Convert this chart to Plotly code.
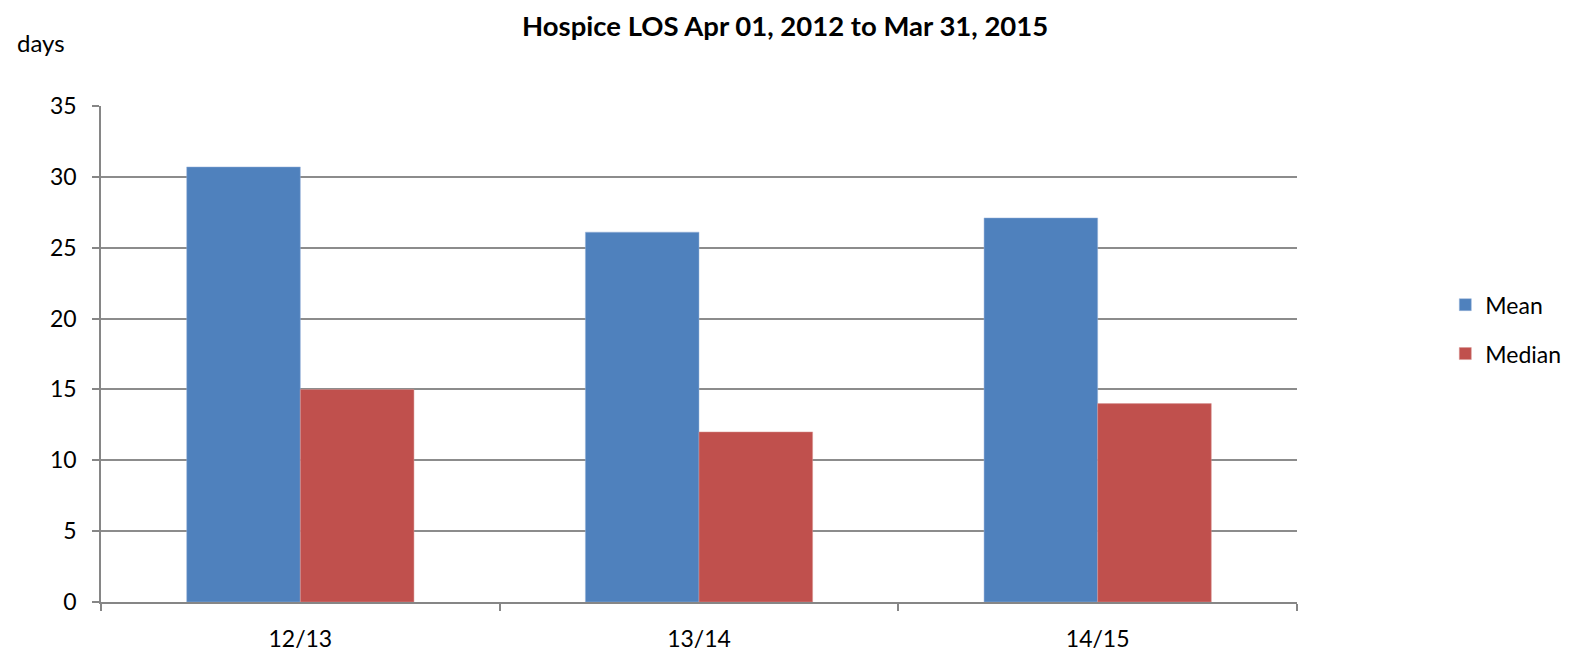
import plotly.graph_objects as go

categories = ["12/13", "13/14", "14/15"]
mean_vals = [30.7, 26.1, 27.1]
median_vals = [15, 12, 14]
y_ticks = [0, 5, 10, 15, 20, 25, 30, 35]

FONT = "Lato, 'Open Sans', sans-serif"
FS = 23

fig = go.Figure()
fig.add_trace(go.Bar(x=categories, y=mean_vals, name="Mean", legendgroup="a",
                     marker=dict(color="#4F81BD", line=dict(color="#9BB5DA", width=0.5))))
fig.add_trace(go.Bar(x=categories, y=median_vals, name="Median", legendgroup="b",
                     marker=dict(color="#C0504D", line=dict(color="#D99694", width=0.5))))

# page body has an 8px margin, so the figure is sized/offset to compensate
fig.update_layout(
    width=1565, height=647,
    margin=dict(l=93, r=276, t=98, b=53, autoexpand=False),
    paper_bgcolor="white", plot_bgcolor="white",
    barmode="group", bargap=0.43, bargroupgap=0,
    font=dict(family=FONT, size=FS, color="black"),
    legend=dict(x=1.124, y=0.55, xanchor="left", yanchor="middle",
                font=dict(size=FS), tracegroupgap=16, itemwidth=30),
    showlegend=True,
)

fig.update_xaxes(type="category", showline=True, linecolor="#868686", linewidth=1.5,
                 ticks="outside", tickson="boundaries", ticklen=7, tickcolor="#868686",
                 tickwidth=1.5, showgrid=False, ticklabelstandoff=16, automargin=False)
fig.update_yaxes(range=[0, 35], tickvals=y_ticks, showline=True, linecolor="#868686",
                 linewidth=1.5, ticks="outside", ticklen=7, tickcolor="#868686", tickwidth=1.5,
                 showgrid=True, gridcolor="#8C8C8C", gridwidth=1.5, zeroline=False,
                 ticklabelstandoff=11, automargin=False)

fig.add_annotation(text="<b>Hospice LOS Apr 01, 2012 to Mar 31, 2015</b>",
                   xref="paper", yref="paper", x=0.572, y=1.163,
                   xanchor="center", yanchor="middle", showarrow=False,
                   borderpad=0, font=dict(size=27.5))
fig.add_annotation(text="days", xref="paper", yref="paper", x=-0.072, y=1.129,
                   xanchor="left", yanchor="middle", showarrow=False, font=dict(size=24))

fig.write_html("out.html")
